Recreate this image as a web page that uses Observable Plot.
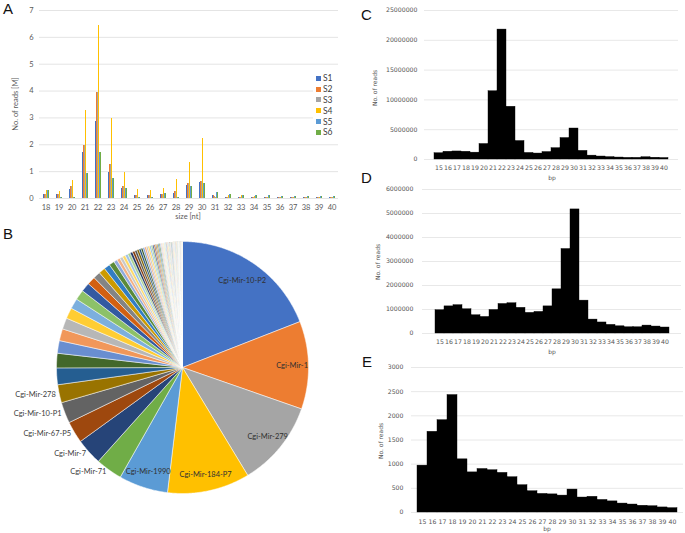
<!DOCTYPE html>
<html><head><meta charset="utf-8">
<script src="https://cdn.jsdelivr.net/npm/d3@7"></script>
<script src="https://cdn.jsdelivr.net/npm/@observablehq/plot@0.6"></script>
<style>
body{margin:0;background:#fff;}
#fig{position:relative;width:685px;height:533px;overflow:hidden;background:#fff;}
.p{position:absolute;}
.lab{position:absolute;font-family:"Liberation Sans",Arial,sans-serif;font-size:15px;color:#111;line-height:1;}
.at{position:absolute;white-space:nowrap;line-height:1;transform:translate(-50%,-50%);}
.atr{position:absolute;white-space:nowrap;line-height:1;transform:translate(-50%,-50%) rotate(-90deg);}
</style></head><body><div id="fig"></div>
<script>
// ---------- Panel A data ----------
const sizesA = ["18","19","20","21","22","23","24","25","26","27","28","29","30","31","32","33","34","35","36","37","38","39","40"];
const seriesA = ["S1","S2","S3","S4","S5","S6"];
const colorsA = ["#4472C4","#ED7D31","#A5A5A5","#FFC000","#5B9BD5","#70AD47"];
const S1 = [0.15,0.15,0.33,1.70,2.87,0.97,0.38,0.12,0.12,0.15,0.20,0.47,0.58,0.13,0.02,0.05,0.05,0.03,0.02,0.02,0.03,0.03,0.02];
const S2 = [0.15,0.15,0.45,1.97,3.93,1.27,0.45,0.12,0.12,0.15,0.27,0.55,0.65,0.10,0.03,0.05,0.05,0.03,0.02,0.02,0.03,0.03,0.02];
const S3 = [0.15,0.15,0.45,1.97,3.93,1.25,0.45,0.12,0.10,0.15,0.27,0.55,0.62,0.08,0.03,0.05,0.05,0.03,0.02,0.02,0.03,0.03,0.02];
const S4 = [0.30,0.27,0.68,3.28,6.43,2.97,0.95,0.32,0.30,0.38,0.72,1.35,2.25,0.04,0.10,0.10,0.07,0.05,0.04,0.03,0.05,0.05,0.05];
const S5 = [0.30,0.03,0.03,0.93,1.70,0.73,0.37,0.03,0.03,0.20,0.02,0.45,0.55,0.22,0.15,0.12,0.11,0.10,0.07,0.08,0.08,0.08,0.07];
const S6 = [0.30,0.03,0.03,0.93,1.70,0.73,0.37,0.03,0.03,0.20,0.02,0.45,0.55,0.22,0.15,0.12,0.11,0.10,0.07,0.08,0.08,0.08,0.07];
const ticksA = [0,1,2,3,4,5,6,7];

// ---------- Panel B data ----------
const pieNames = ["Cgi-Mir-10-P2","Cgi-Mir-1","Cgi-Mir-279","Cgi-Mir-184-P7","Cgi-Mir-1990","Cgi-Mir-71","Cgi-Mir-7","Cgi-Mir-67-P5","Cgi-Mir-10-P1","Cgi-Mir-278"];
const pieValues = [68.6,40.5,39.6,38.0,22.7,12.3,12.2,10.0,9.7,8.3,7.7,6.7,
  5.8,5.5,5.2,5.0,4.8,4.6,4.2,3.8,3.3,3.0,2.8,2.5,
  1.6,1.5,1.4,1.35,1.3,1.2,1.15,1.1,1.05,1.0,0.95,0.9,0.85,0.8,0.78,0.75,0.72,0.7,0.67,0.64,
  0.6,0.57,0.55,0.52,0.5,0.47,0.44,0.42,0.4,0.37,0.35,0.32,0.3,0.27,0.25,0.22,0.2,0.18,0.15,0.12,
  0.3,0.28,0.26,0.25,0.24,0.23,0.22,0.21,0.2,0.2,0.19,0.19,0.18,0.18,0.17,0.17,0.16,0.16,0.15,0.15,
  0.14,0.14,0.13,0.13,0.12,0.12,0.11,0.11,0.1,0.1];
const excelAccents = ["#4472C4","#ED7D31","#A5A5A5","#FFC000","#5B9BD5","#70AD47"];
const excelShades = [[1,0],[0.6,0],[0.8,0.2],[0.8,0],[0.6,0.4],[0.5,0],[0.7,0.3],[0.7,0],[0.5,0.5]];

// ---------- Panels C, D, E data ----------
const bpLabels = ["15","16","17","18","19","20","21","22","23","24","25","26","27","28","29","30","31","32","33","34","35","36","37","38","39","40"];
const readsC = [1050000,1300000,1350000,1300000,1150000,2600000,11450000,21800000,8850000,3100000,1100000,1000000,1250000,1900000,3600000,5200000,1450000,650000,500000,400000,330000,280000,280000,380000,300000,250000];
const readsD = [970000,1130000,1180000,1010000,760000,690000,980000,1230000,1260000,1070000,860000,900000,1130000,1840000,3520000,5170000,1370000,580000,460000,360000,300000,260000,260000,330000,290000,250000];
const readsE = [970,1670,1910,2430,1100,830,900,875,820,730,565,440,385,375,350,475,310,325,260,230,185,165,140,130,105,90];
const ticksC = [0,5000000,10000000,15000000,20000000,25000000];
const ticksD = [0,1000000,2000000,3000000,4000000,5000000,6000000];
const ticksE = [0,500,1000,1500,2000,2500,3000];

const fig = document.getElementById("fig");
function place(node, left, top) {
  const d = document.createElement("div");
  d.className = "p"; d.style.left = left + "px"; d.style.top = top + "px";
  d.appendChild(node); fig.appendChild(d); return d;
}
function txt(cls, s, x, y, css) {
  const e = document.createElement("div");
  e.className = cls; e.textContent = s;
  e.style.left = x + "px"; e.style.top = y + "px";
  Object.assign(e.style, css || {});
  fig.appendChild(e); return e;
}

// ---------- Panel A ----------
const seriesVals = [S1,S2,S3,S4,S5,S6];
const rowsA = [];
sizesA.forEach((s, i) => seriesA.forEach((k, j) => rowsA.push({size: s, series: k, value: seriesVals[j][i]})));
const plotA = Plot.plot({
  width: 345, height: 222,
  marginLeft: 37, marginRight: 6, marginTop: 10, marginBottom: 24,
  style: {fontFamily: "Lato, 'Liberation Sans', sans-serif", fontSize: "7.5px", color: "#595959", background: "transparent"},
  fx: {domain: sizesA, padding: 0, axis: "bottom", tickSize: 0, tickPadding: 6, label: null},
  x: {domain: seriesA, axis: null, paddingInner: 0, paddingOuter: 0.45},
  y: {domain: [0, 7], ticks: ticksA, tickFormat: d3.format("d"), tickSize: 0, tickPadding: 6, label: null},
  color: {domain: seriesA, range: colorsA},
  marks: [
    Plot.ruleY(ticksA, {stroke: "#e4e4e4", strokeWidth: 1}),
    Plot.barY(rowsA, {fx: "size", x: "series", y: "value", fill: "series", inset: 0, shapeRendering: "crispEdges"})
  ]
});
place(plotA, 0, 0);
txt("atr", "No. of reads [M]", 16, 104, {fontFamily: "Lato, sans-serif", fontSize: "7.5px", color: "#595959"});
txt("at", "size [nt]", 188, 217, {fontFamily: "Lato, sans-serif", fontSize: "7.5px", color: "#595959"});
// legend
const leg = document.createElement("div");
Object.assign(leg.style, {position: "absolute", left: "313px", top: "72px", width: "30px", background: "#fff", padding: "1px 0", fontFamily: "Lato, sans-serif", fontSize: "8.5px", color: "#404040"});
seriesA.forEach((k, j) => {
  const r = document.createElement("div");
  Object.assign(r.style, {height: "10.8px", display: "flex", alignItems: "center"});
  const sw = document.createElement("span");
  Object.assign(sw.style, {display: "inline-block", width: "5px", height: "5px", background: colorsA[j], marginLeft: "3px", marginRight: "2px"});
  r.appendChild(sw); r.appendChild(document.createTextNode(k));
  leg.appendChild(r);
});
fig.appendChild(leg);

// ---------- Panel B (pie) ----------
function excelColor(i) {
  const base = d3.hsl(excelAccents[i % 6]);
  const [m, o] = excelShades[Math.floor(i / 6) % excelShades.length];
  base.l = Math.min(1, base.l * m + o);
  return base.formatHex();
}
const arcs = d3.pie().sort(null)(pieValues);
const piePts = [];
const stepA = Math.PI / 360;
arcs.forEach((a, i) => {
  const c = excelColor(i);
  piePts.push({k: i, c, x: 0, y: 0});
  const n = Math.max(2, Math.ceil((a.endAngle - a.startAngle) / stepA));
  for (let t = 0; t <= n; t++) {
    const ang = a.startAngle + (a.endAngle - a.startAngle) * t / n;
    piePts.push({k: i, c, x: Math.sin(ang), y: Math.cos(ang)});
  }
  piePts.push({k: i, c, x: 0, y: 0});
});
const labIn = [], labOut = [];
pieNames.forEach((nm, i) => {
  const a = arcs[i], mid = (a.startAngle + a.endAngle) / 2;
  if (i < 5) { const r = i === 0 ? 0.84 : 0.87; labIn.push({x: r * Math.sin(mid), y: r * Math.cos(mid), t: nm}); }
  else { const r = 1.02; labOut.push({x: r * Math.sin(mid), y: r * Math.cos(mid), t: nm}); }
});
const plotB = Plot.plot({
  width: 345, height: 290,
  marginLeft: 56, marginRight: 37, marginTop: 11, marginBottom: 27,
  style: {fontFamily: "Lato, 'Liberation Sans', sans-serif", fontSize: "7.5px", color: "#404040", background: "transparent", overflow: "visible"},
  x: {domain: [-1, 1], axis: null},
  y: {domain: [-1, 1], axis: null},
  color: {type: "identity"},
  marks: [
    Plot.line(piePts, {x: "x", y: "y", z: "k", fill: "c", stroke: "white", strokeWidth: 0.5, strokeLinejoin: "round"}),
    Plot.text(labIn, {x: "x", y: "y", text: "t", fill: "#303030", fontSize: 7.5}),
    Plot.text(labOut, {x: "x", y: "y", text: "t", fill: "#404040", fontSize: 7.5, textAnchor: "end", dx: -1})
  ]
});
place(plotB, 0, 230);

// ---------- Panels C, D, E ----------
function hist(reads, ticks, o) {
  const rows = bpLabels.map((b, i) => ({bp: b, reads: reads[i]}));
  return Plot.plot({
    width: o.w, height: o.h,
    marginLeft: o.ml, marginRight: o.mr, marginTop: o.mt, marginBottom: o.mb,
    style: {fontFamily: "'DejaVu Sans', sans-serif", fontSize: "6.2px", color: "#555", background: "transparent"},
    x: {domain: bpLabels, padding: 0, tickSize: 0, tickPadding: o.px, label: null},
    y: {domain: [0, ticks[ticks.length - 1]], ticks: ticks, tickFormat: d3.format("d"), tickSize: 0, tickPadding: o.py, label: null},
    marks: [
      Plot.ruleY(ticks, {stroke: "#e8e8e8", strokeWidth: 1}),
      Plot.barY(rows, {x: "bp", y: "reads", fill: "black", stroke: "black", strokeWidth: 0.4, inset: 0})
    ]
  });
}
place(hist(readsC, ticksC, {w: 340, h: 182, ml: 79, mr: 7, mt: 10, mb: 23, px: 6, py: 7}), 345, 0);
place(hist(readsD, ticksD, {w: 340, h: 170, ml: 77, mr: 4, mt: 7, mb: 19, px: 6, py: 9}), 345, 182);
place(hist(readsE, ticksE, {w: 340, h: 176, ml: 66, mr: 2, mt: 10, mb: 21, px: 7, py: 8}), 345, 357);
const sm = {fontFamily: "'DejaVu Sans', sans-serif", fontSize: "6px", color: "#555"};
txt("atr", "No. of reads", 375, 88, sm);
txt("at", "bp", 552, 178, sm);
txt("atr", "No. of reads", 378, 262, sm);
txt("at", "bp", 552, 352, sm);
txt("atr", "No. of reads", 381, 441, sm);
txt("at", "bp", 547, 529, sm);

// panel letters
txt("lab", "A", 3, 1);
txt("lab", "B", 3, 226);
txt("lab", "C", 361, 7);
txt("lab", "D", 361, 170);
txt("lab", "E", 362, 354);
</script></body></html>
